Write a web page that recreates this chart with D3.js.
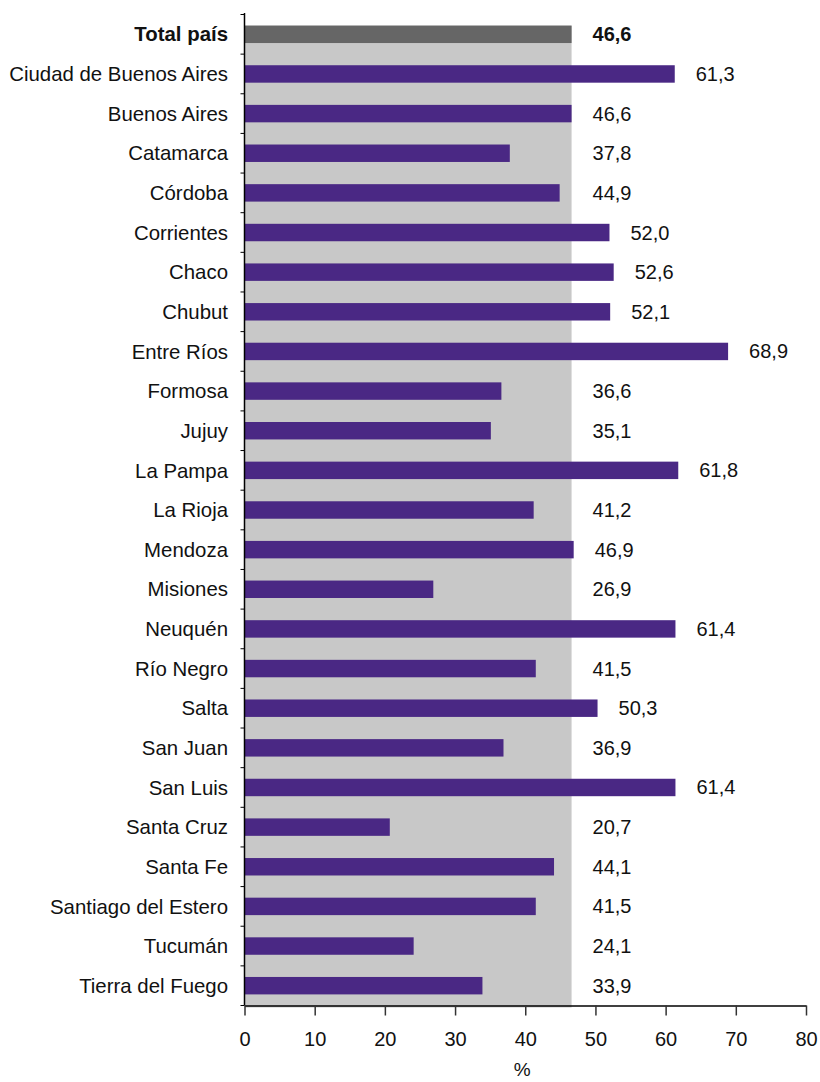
<!DOCTYPE html>
<html>
<head>
<meta charset="utf-8">
<script src="https://cdn.jsdelivr.net/npm/d3@7"></script>
<style>
  body { margin: 0; background: #fff; }
  text { font-family: "Liberation Sans", Arial, sans-serif; fill: #111; }
</style>
</head>
<body>
<svg id="chart"></svg>
<script>
// datos
var categories = ["Total país", "Ciudad de Buenos Aires", "Buenos Aires", "Catamarca", "Córdoba",
  "Corrientes", "Chaco", "Chubut", "Entre Ríos", "Formosa", "Jujuy", "La Pampa", "La Rioja",
  "Mendoza", "Misiones", "Neuquén", "Río Negro", "Salta", "San Juan", "San Luis", "Santa Cruz",
  "Santa Fe", "Santiago del Estero", "Tucumán", "Tierra del Fuego"];
var values = [46.6, 61.3, 46.6, 37.8, 44.9, 52.0, 52.6, 52.1, 68.9, 36.6, 35.1, 61.8, 41.2,
  46.9, 26.9, 61.4, 41.5, 50.3, 36.9, 61.4, 20.7, 44.1, 41.5, 24.1, 33.9];
var xTicks = [0, 10, 20, 30, 40, 50, 60, 70, 80];
var totalLabel = "Total país";
var axisTitle = "%";

var width = 820, height = 1082;
var fmt = function (v) { return v.toFixed(1).replace(".", ","); };

var svg = d3.select("#chart").attr("width", width).attr("height", height);

var x = d3.scaleLinear().domain([0, 80]).range([244.5, 806]);
var y = d3.scaleBand().domain(categories).range([14.5, 1005.5]).padding(0);

var barH = y.bandwidth() * 0.44;
var total = values[categories.indexOf(totalLabel)];
var axisY = y.range()[1];

// fondo gris (valor total país)
svg.append("rect")
  .attr("x", x(0))
  .attr("y", y(totalLabel) + (y.bandwidth() - barH) / 2)
  .attr("width", x(total) - x(0))
  .attr("height", axisY + 2 - (y(totalLabel) + (y.bandwidth() - barH) / 2))
  .attr("fill", "#c8c8c8");

var rows = categories.map(function (c, i) { return { cat: c, value: values[i] }; });

svg.selectAll("rect.bar")
  .data(rows)
  .enter().append("rect")
  .attr("class", "bar")
  .attr("x", x(0))
  .attr("y", function (d) { return y(d.cat) + (y.bandwidth() - barH) / 2; })
  .attr("width", function (d) { return x(d.value) - x(0); })
  .attr("height", barH)
  .attr("fill", function (d) { return d.cat === totalLabel ? "#666666" : "#4a2884"; });

// etiquetas de valor
svg.selectAll("text.val")
  .data(rows)
  .enter().append("text")
  .attr("class", "val")
  .attr("x", function (d) { return x(Math.max(d.value, total)) + 21; })
  .attr("y", function (d) { return y(d.cat) + y.bandwidth() / 2; })
  .attr("dy", "0.35em")
  .style("font-size", "20px")
  .style("font-weight", function (d) { return d.cat === totalLabel ? "bold" : "normal"; })
  .text(function (d) { return fmt(d.value); });

// etiquetas de categoría
svg.selectAll("text.cat")
  .data(rows)
  .enter().append("text")
  .attr("class", "cat")
  .attr("x", 228)
  .attr("y", function (d) { return y(d.cat) + y.bandwidth() / 2; })
  .attr("dy", "0.35em")
  .attr("text-anchor", "end")
  .style("font-size", "20.4px")
  .style("font-weight", function (d) { return d.cat === totalLabel ? "bold" : "normal"; })
  .text(function (d) { return d.cat; });

// eje y con marcas entre categorías
var bounds = categories.map(function (c) { return y(c); }).concat([axisY]);
svg.append("line")
  .attr("x1", x(0)).attr("x2", x(0))
  .attr("y1", y.range()[0] - 1.5).attr("y2", axisY)
  .attr("stroke", "#000").attr("stroke-width", 1.5);
svg.selectAll("line.ytick")
  .data(bounds)
  .enter().append("line")
  .attr("class", "ytick")
  .attr("x1", x(0) - 4).attr("x2", x(0))
  .attr("y1", function (d) { return d; }).attr("y2", function (d) { return d; })
  .attr("stroke", "#000").attr("stroke-width", 1);

// eje x
var xAxis = svg.append("g")
  .attr("transform", "translate(0," + axisY + ")")
  .call(d3.axisBottom(x).tickValues(xTicks).tickSize(10).tickPadding(16).tickSizeOuter(0));
xAxis.select(".domain").attr("stroke", "#000").attr("stroke-width", 1.5);
xAxis.selectAll(".tick line").attr("stroke", "#333").attr("stroke-width", 1.5);
xAxis.selectAll(".tick text")
  .style("font-size", "20px")
  .style("font-family", "'Liberation Sans', Arial, sans-serif")
  .attr("fill", "#111");

svg.append("text")
  .attr("x", (x(0) + x(80)) / 2 - 3)
  .attr("y", 1076)
  .attr("text-anchor", "middle")
  .style("font-size", "19px")
  .text(axisTitle);
</script>
</body>
</html>
